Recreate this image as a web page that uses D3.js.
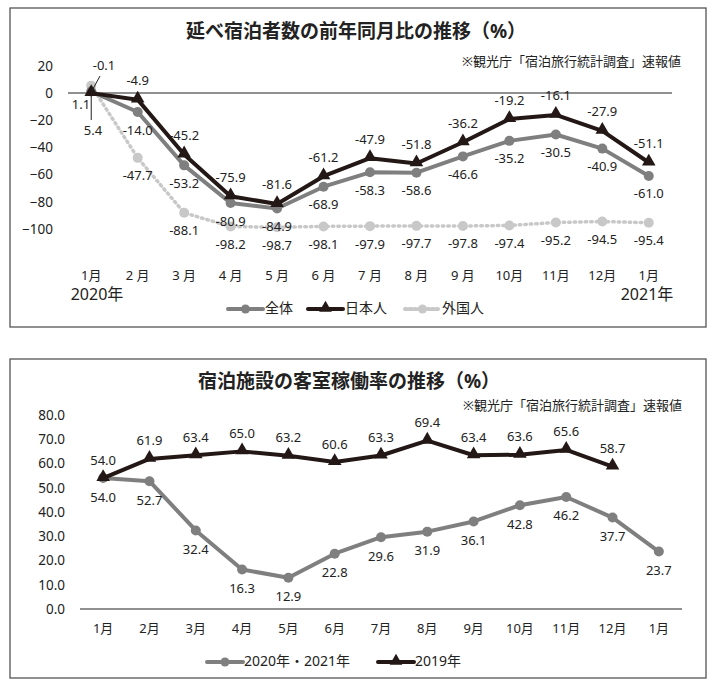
<!DOCTYPE html>
<html>
<head>
<meta charset="utf-8">
<script src="https://cdn.jsdelivr.net/npm/d3@7"></script>
<style>
  body { margin: 0; background: #fff; }
  text { font-family: "Noto Sans", "Noto Sans CJK JP", sans-serif; fill: #222; }
</style>
</head>
<body>
<div id="chart"></div>
<script>
// data
var topMonths = ["1月", "2 月", "3 月", "4 月", "5 月", "6 月", "7 月", "8 月", "9 月", "10月", "11月", "12月", "1月"];
var zentai = [1.1, -14.0, -53.2, -80.9, -84.9, -68.9, -58.3, -58.6, -46.6, -35.2, -30.5, -40.9, -61.0];
var nihonjin = [-0.1, -4.9, -45.2, -75.9, -81.6, -61.2, -47.9, -51.8, -36.2, -19.2, -16.1, -27.9, -51.1];
var gaikokujin = [5.4, -47.7, -88.1, -98.2, -98.7, -98.1, -97.9, -97.7, -97.8, -97.4, -95.2, -94.5, -95.4];
var topTicks = [20, 0, -20, -40, -60, -80, -100];

var botMonths = ["1月", "2月", "3月", "4月", "5月", "6月", "7月", "8月", "9月", "10月", "11月", "12月", "1月"];
var rate2020 = [54.0, 52.7, 32.4, 16.3, 12.9, 22.8, 29.6, 31.9, 36.1, 42.8, 46.2, 37.7, 23.7];
var rate2019 = [54.0, 61.9, 63.4, 65.0, 63.2, 60.6, 63.3, 69.4, 63.4, 63.6, 65.6, 58.7];
var botTicks = [0, 10, 20, 30, 40, 50, 60, 70, 80];

var svg = d3.select("#chart").append("svg")
  .attr("width", 713)
  .attr("height", 686);

var GRAY = "#7f7f7f", BLACK = "#231815", LIGHT = "#c8c8c8";

// panel frames
svg.append("rect").attr("x", 10).attr("y", 8).attr("width", 696).attr("height", 319)
  .attr("fill", "#fff").attr("stroke", "#555").attr("stroke-width", 1.3);
svg.append("rect").attr("x", 10).attr("y", 359).attr("width", 696).attr("height", 319)
  .attr("fill", "#fff").attr("stroke", "#555").attr("stroke-width", 1.3);

function drawSeries(g, vals, x, y, color, marker, dash, width) {
  var idx = d3.range(vals.length);
  var line = d3.line().x(i => x(i)).y(i => y(vals[i]));
  g.append("path").datum(idx)
    .attr("d", line)
    .attr("fill", "none")
    .attr("stroke", color)
    .attr("stroke-width", width)
    .attr("stroke-linejoin", "round")
    .attr("stroke-linecap", dash ? "round" : "butt")
    .attr("stroke-dasharray", dash || null);
  if (marker === "circle") {
    g.selectAll(null).data(idx).enter().append("circle")
      .attr("cx", i => x(i)).attr("cy", i => y(vals[i]))
      .attr("r", 5).attr("fill", color);
  } else {
    g.selectAll(null).data(idx).enter().append("path")
      .attr("d", d3.symbol().type(d3.symbolTriangle).size(80))
      .attr("transform", i => `translate(${x(i)},${y(vals[i]) - 1})`)
      .attr("fill", color);
  }
}

function drawLabels(g, vals, x, y, dy, skip) {
  g.selectAll(null).data(d3.range(vals.length).filter(i => skip.indexOf(i) < 0)).enter()
    .append("text")
    .attr("x", i => x(i))
    .attr("y", i => y(vals[i]) + dy)
    .attr("text-anchor", "middle")
    .attr("dominant-baseline", "middle")
    .attr("font-size", 13)
    .text(i => vals[i].toFixed(1));
}

// ===== top chart =====
var t = svg.append("g");
var xTop = d3.scalePoint().domain(d3.range(13)).range([68, 672]).padding(0.5);
var yTop = d3.scaleLinear().domain([-100, 20]).range([229, 65.8]);

t.append("text").attr("x", 356).attr("y", 33).attr("text-anchor", "middle")
  .attr("dominant-baseline", "middle").attr("font-size", 19).attr("font-weight", "bold")
  .text("延べ宿泊者数の前年同月比の推移（%）");
t.append("text").attr("x", 681).attr("y", 63).attr("text-anchor", "end")
  .attr("dominant-baseline", "middle").attr("font-size", 13)
  .text("※観光庁「宿泊旅行統計調査」速報値");

var yAxisTop = d3.axisLeft(yTop).tickValues(topTicks).tickSize(0).tickPadding(0);
t.append("g").attr("transform", "translate(53,0)").call(yAxisTop)
  .call(g => g.select(".domain").remove())
  .selectAll("text").attr("font-size", 13.5).attr("fill", "#222");

t.append("line").attr("x1", 68).attr("x2", 672).attr("y1", yTop(0)).attr("y2", yTop(0))
  .attr("stroke", "#222").attr("stroke-width", 1.2);

t.selectAll(null).data(topMonths).enter().append("text")
  .attr("x", (d, i) => xTop(i)).attr("y", 277)
  .attr("text-anchor", "middle").attr("dominant-baseline", "middle")
  .attr("font-size", 13).text(d => d);
t.append("text").attr("x", 97).attr("y", 296).attr("text-anchor", "middle")
  .attr("dominant-baseline", "middle").attr("font-size", 16).text("2020年");
t.append("text").attr("x", 647).attr("y", 296).attr("text-anchor", "middle")
  .attr("dominant-baseline", "middle").attr("font-size", 16).text("2021年");

drawSeries(t, gaikokujin, xTop, yTop, LIGHT, "circle", "1.5,4", 3.5);
drawSeries(t, zentai, xTop, yTop, GRAY, "circle", null, 4);
drawSeries(t, nihonjin, xTop, yTop, BLACK, "triangle", null, 4);

drawLabels(t, nihonjin, xTop, yTop, -18, [0]);
drawLabels(t, zentai, xTop, yTop, 19, [0]);
drawLabels(t, gaikokujin, xTop, yTop, 19, [0]);

// first month labels with leader lines
t.append("text").attr("x", 104).attr("y", 67).attr("text-anchor", "middle")
  .attr("dominant-baseline", "middle").attr("font-size", 13).text(nihonjin[0].toFixed(1));
t.append("line").attr("x1", 100).attr("y1", 76).attr("x2", xTop(0)).attr("y2", yTop(nihonjin[0]) - 1)
  .attr("stroke", "#222").attr("stroke-width", 1);
t.append("text").attr("x", 81).attr("y", 106).attr("text-anchor", "middle")
  .attr("dominant-baseline", "middle").attr("font-size", 13).text(zentai[0].toFixed(1));
t.append("text").attr("x", 93).attr("y", 132).attr("text-anchor", "middle")
  .attr("dominant-baseline", "middle").attr("font-size", 13).text(gaikokujin[0].toFixed(1));
t.append("line").attr("x1", xTop(0)).attr("y1", 96).attr("x2", xTop(0)).attr("y2", 120)
  .attr("stroke", "#222").attr("stroke-width", 1);

// legend top
var topLegend = [
  {name: "全体", color: GRAY, marker: "circle", dash: null, x: 228},
  {name: "日本人", color: BLACK, marker: "triangle", dash: null, x: 308},
  {name: "外国人", color: LIGHT, marker: "circle", dash: "1.5,3", x: 405}
];
topLegend.forEach(function(d) {
  var ly = 309;
  t.append("line").attr("x1", d.x).attr("x2", d.x + 35).attr("y1", ly).attr("y2", ly)
    .attr("stroke", d.color).attr("stroke-width", 4)
    .attr("stroke-linecap", "round").attr("stroke-dasharray", d.dash);
  if (d.marker === "circle") {
    t.append("circle").attr("cx", d.x + 17.5).attr("cy", ly).attr("r", 4.5).attr("fill", d.color);
  } else {
    t.append("path").attr("d", d3.symbol().type(d3.symbolTriangle).size(70))
      .attr("transform", `translate(${d.x + 17.5},${ly - 1})`).attr("fill", d.color);
  }
  t.append("text").attr("x", d.x + 37).attr("y", ly).attr("dominant-baseline", "middle")
    .attr("font-size", 14).text(d.name);
});

// ===== bottom chart =====
var b = svg.append("g");
var xBot = d3.scalePoint().domain(d3.range(13)).range([80, 682]).padding(0.5);
var yBot = d3.scaleLinear().domain([0, 80]).range([609, 415]);

b.append("text").attr("x", 349).attr("y", 383).attr("text-anchor", "middle")
  .attr("dominant-baseline", "middle").attr("font-size", 19).attr("font-weight", "bold")
  .text("宿泊施設の客室稼働率の推移（%）");
b.append("text").attr("x", 682).attr("y", 407).attr("text-anchor", "end")
  .attr("dominant-baseline", "middle").attr("font-size", 13)
  .text("※観光庁「宿泊旅行統計調査」速報値");

var yAxisBot = d3.axisLeft(yBot).tickValues(botTicks).tickFormat(d3.format(".1f")).tickSize(0).tickPadding(0);
b.append("g").attr("transform", "translate(65,0)").call(yAxisBot)
  .call(g => g.select(".domain").remove())
  .selectAll("text").attr("font-size", 13.5).attr("fill", "#222");

b.append("line").attr("x1", 80).attr("x2", 682).attr("y1", yBot(0)).attr("y2", yBot(0))
  .attr("stroke", "#222").attr("stroke-width", 1.2);

b.selectAll(null).data(botMonths).enter().append("text")
  .attr("x", (d, i) => xBot(i)).attr("y", 630)
  .attr("text-anchor", "middle").attr("dominant-baseline", "middle")
  .attr("font-size", 13).text(d => d);

drawSeries(b, rate2020, xBot, yBot, GRAY, "circle", null, 4);
drawSeries(b, rate2019, xBot, yBot, BLACK, "triangle", null, 4);
drawLabels(b, rate2019, xBot, yBot, -17, []);
drawLabels(b, rate2020, xBot, yBot, 20, []);

var botLegend = [
  {name: "2020年・2021年", color: GRAY, marker: "circle", x: 207},
  {name: "2019年", color: BLACK, marker: "triangle", x: 378}
];
botLegend.forEach(function(d) {
  var ly = 662;
  b.append("line").attr("x1", d.x).attr("x2", d.x + 36).attr("y1", ly).attr("y2", ly)
    .attr("stroke", d.color).attr("stroke-width", 4).attr("stroke-linecap", "round");
  if (d.marker === "circle") {
    b.append("circle").attr("cx", d.x + 18).attr("cy", ly).attr("r", 4.5).attr("fill", d.color);
  } else {
    b.append("path").attr("d", d3.symbol().type(d3.symbolTriangle).size(70))
      .attr("transform", `translate(${d.x + 18},${ly - 1})`).attr("fill", d.color);
  }
  b.append("text").attr("x", d.x + 37).attr("y", ly).attr("dominant-baseline", "middle")
    .attr("font-size", 14).text(d.name);
});
</script>
</body>
</html>
